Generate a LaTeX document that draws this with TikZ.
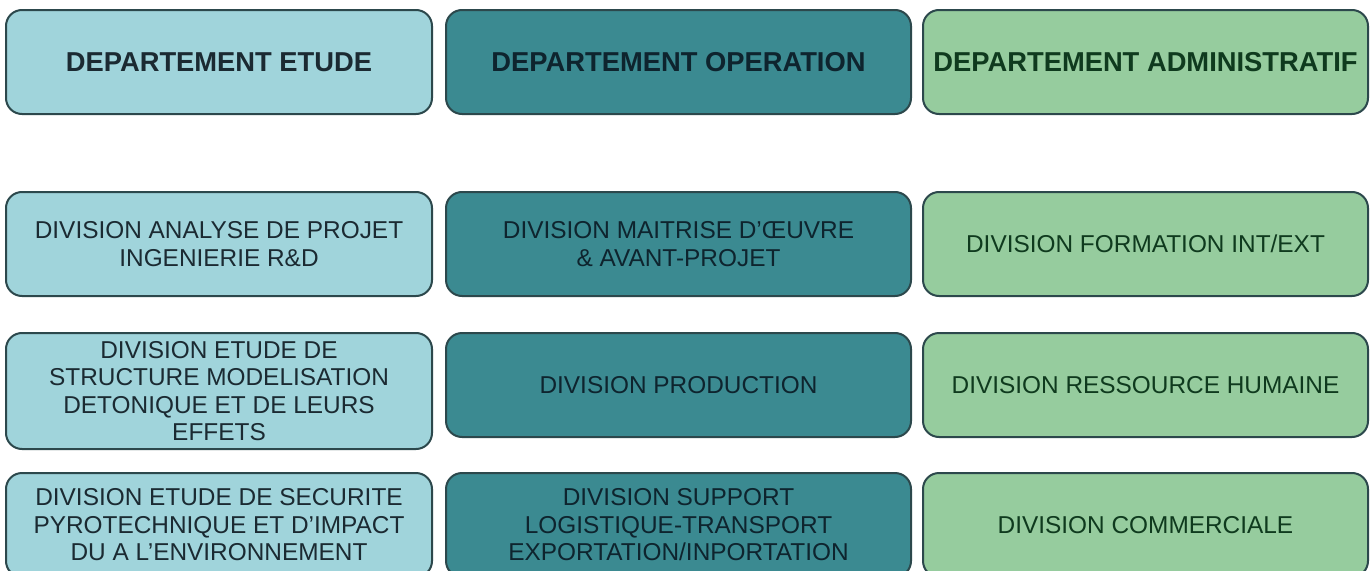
\documentclass[tikz,border=0pt]{standalone}
\usepackage{fontspec}
\setmainfont{Liberation Sans}
\usepackage{tikz}

\definecolor{etudefill}{RGB}{160,212,219}
\definecolor{operfill}{RGB}{59,138,145}
\definecolor{adminfill}{RGB}{150,204,158}
\definecolor{boxline}{RGB}{44,72,76}
\definecolor{etudetext}{RGB}{27,42,50}
\definecolor{opertext}{RGB}{14,36,46}
\definecolor{admintext}{RGB}{15,58,30}

\tikzset{
  unitbox/.style={draw=boxline, line width=1.5pt, rounded corners=12pt, align=center, inner sep=0pt, minimum height=78pt},
  etude/.style={unitbox, fill=etudefill, text=etudetext, minimum width=319.5pt},
  oper/.style={unitbox, fill=operfill, text=opertext, minimum width=348.75pt},
  admin/.style={unitbox, fill=adminfill, text=admintext, minimum width=333.75pt},
  depfont/.style={font=\fontsize{20.5}{24}\selectfont\bfseries},
  divfont/.style={font=\fontsize{18.3}{20.6}\selectfont}
}

\begin{document}
\begin{tikzpicture}[x=0.75pt,y=0.75pt,yscale=-1,xscale=1]
\clip (0,0) rectangle (1372,571);
\fill[white] (0,0) rectangle (1372,571);

%Departements
\node [etude,depfont] (depEtude) at (219,62) {DEPARTEMENT ETUDE};
\node [oper,depfont] (depOper) at (678.5,62) {DEPARTEMENT OPERATION};
\node [admin,depfont] (depAdmin) at (1145.5,62) {DEPARTEMENT ADMINISTRATIF};

%Divisions etude
\node [etude,divfont] (divAnalyse) at (219,244) {DIVISION ANALYSE DE PROJET\\INGENIERIE R\&D};
\node [etude,divfont,minimum height=87pt] (divStructure) at (219,391) {DIVISION ETUDE DE\\STRUCTURE MODELISATION\\DETONIQUE ET DE LEURS\\EFFETS};
\node [etude,divfont] (divSecurite) at (219,525) {DIVISION ETUDE DE SECURITE\\PYROTECHNIQUE ET D'IMPACT\\DU A L'ENVIRONNEMENT};

%Divisions operation
\node [oper,divfont] (divMaitrise) at (678.5,244) {DIVISION MAITRISE D'ŒUVRE\\\& AVANT-PROJET};
\node [oper,divfont] (divProduction) at (678.5,385) {DIVISION PRODUCTION};
\node [oper,divfont] (divSupport) at (678.5,525) {DIVISION SUPPORT\\LOGISTIQUE-TRANSPORT\\EXPORTATION/INPORTATION};

%Divisions administratif
\node [admin,divfont] (divFormation) at (1145.5,244) {DIVISION FORMATION INT/EXT};
\node [admin,divfont] (divRessource) at (1145.5,385) {DIVISION RESSOURCE HUMAINE};
\node [admin,divfont] (divCommerciale) at (1145.5,525) {DIVISION COMMERCIALE};

\end{tikzpicture}
\end{document}
